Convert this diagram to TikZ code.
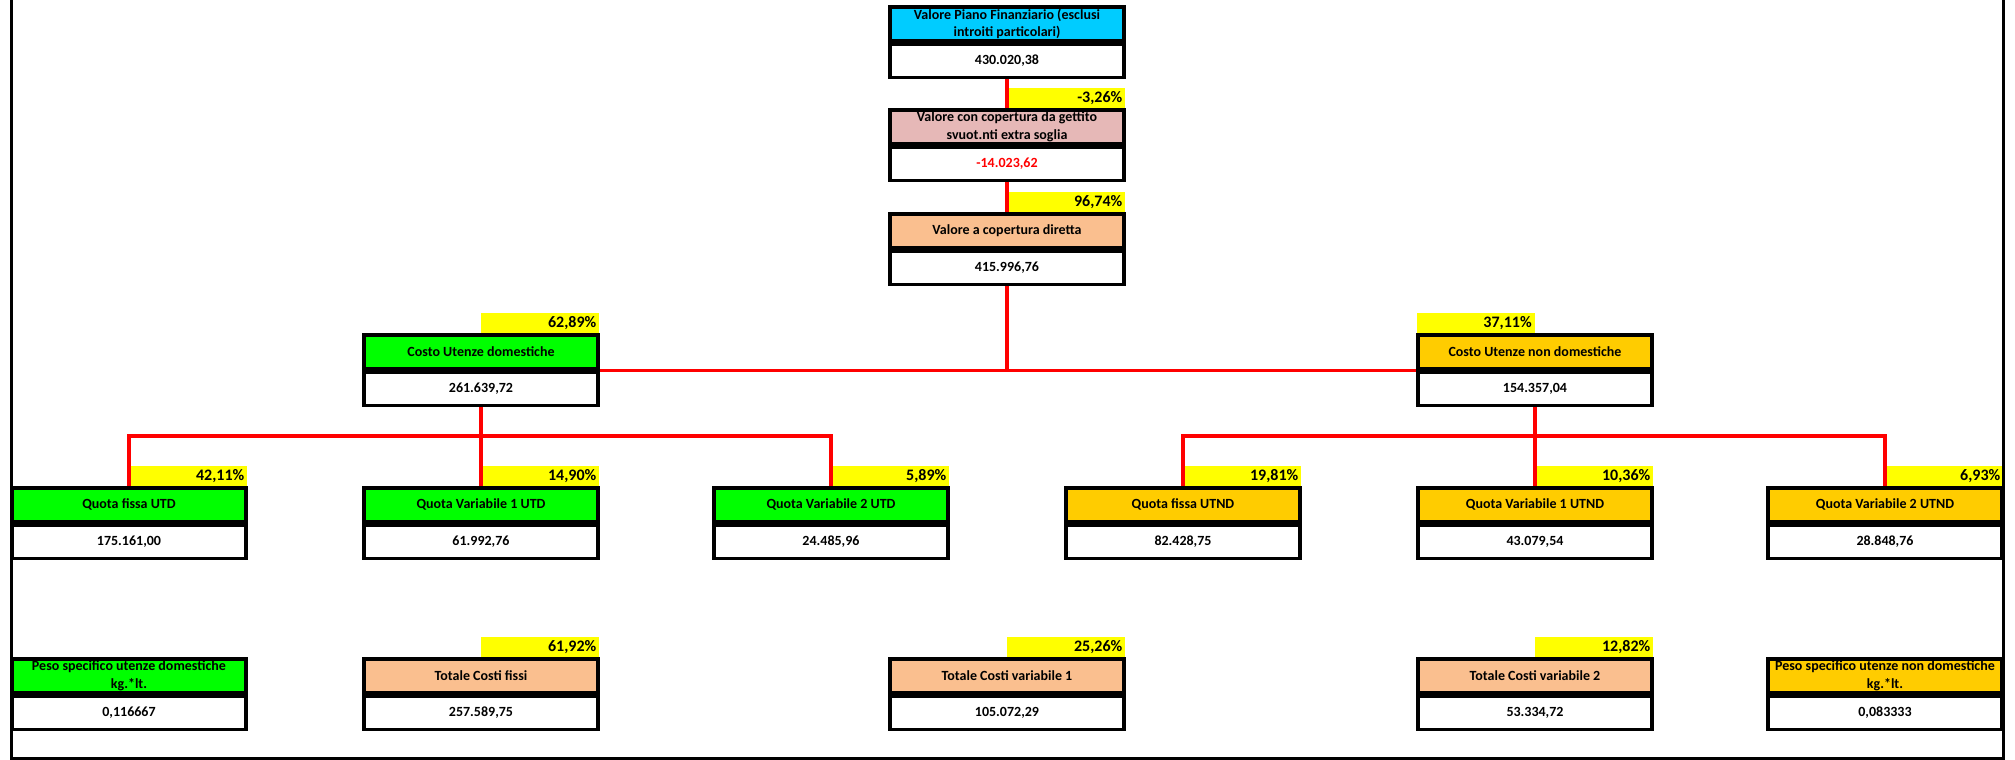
\documentclass[tikz,border=0pt]{standalone}
\usepackage{fontspec}
\setmainfont{Carlito}
\usetikzlibrary{backgrounds}
\definecolor{cyanc}{HTML}{00CCFF}
\definecolor{pinkc}{HTML}{E6B8B7}
\definecolor{peachc}{HTML}{FABF8F}
\definecolor{greenc}{HTML}{00FF00}
\definecolor{goldc}{HTML}{FFCC00}
\definecolor{yelc}{HTML}{FFFF00}
\definecolor{redc}{HTML}{FF0000}
\tikzset{
  hdr/.style={draw=black, line width=1.75pt, minimum width=117pt, minimum height=16.75pt, inner sep=0pt, align=center, font=\bfseries\fontsize{7}{8.6}\selectfont},
  val/.style={draw=black, fill=white, line width=1.75pt, minimum width=117pt, minimum height=16.75pt, inner sep=0pt, font=\bfseries\fontsize{7}{8.6}\selectfont},
  pctbox/.style={fill=yelc, minimum height=10pt, text width=56pt, align=right, inner xsep=1.5pt, inner ysep=0pt, font=\bfseries\fontsize{8}{9}\selectfont},
  conn/.style={draw=redc, line width=1.6pt},
  frameline/.style={draw=black, line width=1.5pt},
}
% name, cx, top, fill, header, value
\newcommand\cellbox[6]{%
  \node[hdr, fill=#4] (h#1) at (#2,#3+16.75) {#5};
  \node[val, anchor=north] (v#1) at (h#1.south) {#6};
}
\begin{document}
\begin{tikzpicture}[x=0.5pt, y=-0.5pt]
\useasboundingbox (0,0) rectangle (2015,760);

% top column
\cellbox{A}{1007}{7}{cyanc}{Valore Piano Finanziario (esclusi\\introiti particolari)}{430.020,38}
\cellbox{B}{1007}{110}{pinkc}{Valore con copertura da gettito\\svuot.nti extra soglia}{\textcolor{redc}{-14.023,62}}
\cellbox{C}{1007}{214}{peachc}{Valore a copertura diretta}{415.996,76}

% second level
\cellbox{D1}{481}{335}{greenc}{Costo Utenze domestiche}{261.639,72}
\cellbox{D2}{1535}{335}{goldc}{Costo Utenze non domestiche}{154.357,04}

% third level
\cellbox{E1}{129}{488}{greenc}{Quota fissa UTD}{175.161,00}
\cellbox{E2}{481}{488}{greenc}{Quota Variabile 1 UTD}{61.992,76}
\cellbox{E3}{831}{488}{greenc}{Quota Variabile 2 UTD}{24.485,96}
\cellbox{E4}{1183}{488}{goldc}{Quota fissa UTND}{82.428,75}
\cellbox{E5}{1535}{488}{goldc}{Quota Variabile 1 UTND}{43.079,54}
\cellbox{E6}{1885}{488}{goldc}{Quota Variabile 2 UTND}{28.848,76}

% bottom row
\cellbox{F1}{129}{659}{greenc}{Peso specifico utenze domestiche\\kg.*lt.}{0,116667}
\cellbox{F2}{481}{659}{peachc}{Totale Costi fissi}{257.589,75}
\cellbox{F3}{1007}{659}{peachc}{Totale Costi variabile 1}{105.072,29}
\cellbox{F4}{1535}{659}{peachc}{Totale Costi variabile 2}{53.334,72}
\cellbox{F5}{1885}{659}{goldc}{Peso specifico utenze non domestiche\\kg.*lt.}{0,083333}

\coordinate (jL) at (481,436);
\coordinate (jR) at (1535,436);

\begin{pgfonlayer}{background}
  % percentage labels
  \node[pctbox, anchor=south east] (pB) at (hB.north east) {-3,26\%};
  \node[pctbox, anchor=south east] (pC) at (hC.north east) {96,74\%};
  \node[pctbox, anchor=south east] (pD1) at (hD1.north east) {62,89\%};
  \node[pctbox, anchor=south west] (pD2) at (hD2.north west) {37,11\%};
  \node[pctbox, anchor=south east] (pE1) at (hE1.north east) {42,11\%};
  \node[pctbox, anchor=south east] (pE2) at (hE2.north east) {14,90\%};
  \node[pctbox, anchor=south east] (pE3) at (hE3.north east) {5,89\%};
  \node[pctbox, anchor=south east] (pE4) at (hE4.north east) {19,81\%};
  \node[pctbox, anchor=south east] (pE5) at (hE5.north east) {10,36\%};
  \node[pctbox, anchor=south east] (pE6) at (hE6.north east) {6,93\%};
  \node[pctbox, anchor=south east] (pF2) at (hF2.north east) {61,92\%};
  \node[pctbox, anchor=south east] (pF3) at (hF3.north east) {25,26\%};
  \node[pctbox, anchor=south east] (pF4) at (hF4.north east) {12,82\%};

  % connectors
  \draw[conn] (vA.south) -- (hB.north);
  \draw[conn] (vB.south) -- (hC.north);
  \draw[conn] (vC.south) -- (vC.south |- vD1.north east);
  \draw[conn] (vD1.north east) -- (vD2.north west);
  \draw[conn] (vD1.south) -- (hE2.north);
  \draw[conn] (hE1.north) |- (jL) -| (hE3.north);
  \draw[conn] (vD2.south) -- (hE5.north);
  \draw[conn] (hE4.north) |- (jR) -| (hE6.north);
\end{pgfonlayer}

% sheet frame
\draw[frameline] (11,0) -- (11,758) -- (2003,758) -- (2003,0);
\end{tikzpicture}
\end{document}
